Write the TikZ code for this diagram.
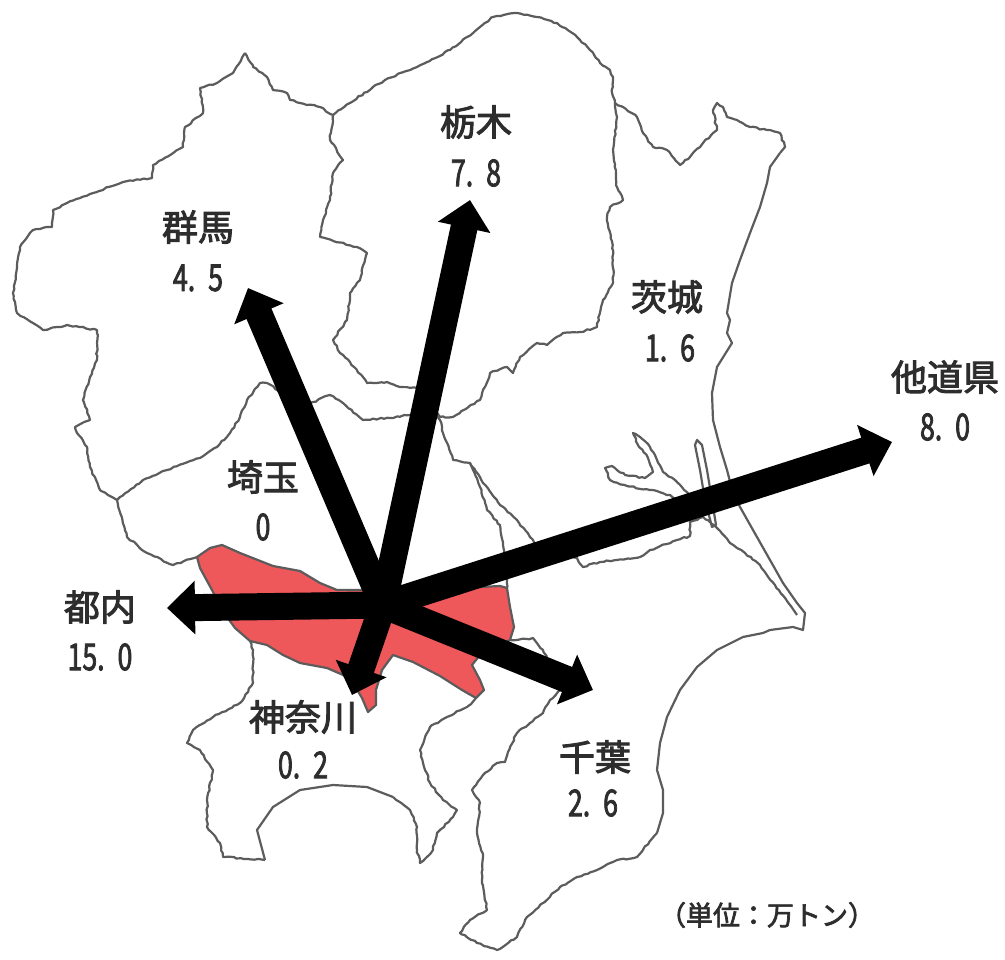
\documentclass[tikz,border=0pt]{standalone}
\usepackage{fontspec}
\setmainfont{Noto Sans CJK JP}
\newfontfamily\kjf{Noto Sans CJK JP}[FakeBold=2.6]
\newfontfamily\numf{Noto Sans CJK JP}[FakeStretch=0.72,FakeBold=2]
\usetikzlibrary{arrows.meta,decorations.pathmorphing}
\definecolor{mapline}{RGB}{92,92,92}
\definecolor{tokyored}{RGB}{238,88,90}
\definecolor{txt}{RGB}{45,45,45}
\newcommand\dgap{\hspace{13pt}}
\begin{document}
\begin{tikzpicture}[x=1pt,y=-1pt,
  border/.style={draw=mapline, line width=2.2pt, line join=round},
  jag/.style={border, decorate, decoration={random steps, segment length=3.5pt, amplitude=0.8pt}},
  flow/.style={draw=black, line width=27pt, -{Triangle[width=52pt,length=28pt]}},
  kj/.style={font=\fontsize{36}{40}\selectfont\kjf, text=txt, inner sep=0pt},
  num/.style={font=\fontsize{37}{40}\selectfont\numf, text=txt, inner sep=0pt},
  unit/.style={font=\fontsize{27}{30}\selectfont\kjf, text=txt, inner sep=0pt}]
\pgfmathsetseed{7}
\fill[white] (0,0) rectangle (1005,960);
\useasboundingbox (0,0) rectangle (1005,960);
% Tokyo
\filldraw[fill=tokyored, border] (197,557) -- (210,548) -- (222,545) -- (240,553) -- (273,566) -- (300,571) -- (320,583) -- (337,590) -- (360,590) -- (413,593) -- (447,590) -- (480,587) -- (500,586) -- (507,588) -- (510,607) -- (514,627) -- (510,640) -- (497,647) -- (480,655) -- (472,665) -- (480,680) -- (484,690) -- (476,698) -- (462,690) -- (440,676) -- (413,662) -- (393,655) -- (382,670) -- (376,690) -- (376,705) -- (368,712) -- (362,698) -- (350,678) -- (327,668) -- (300,663) -- (283,655) -- (267,645) -- (250,641) -- (235,628) -- (222,610) -- (212,590) -- (200,568) -- cycle;
% outer boundary: northern inland border
\draw[jag] (245,53) -- (253,67) -- (267,77) -- (273,90) -- (287,93) -- (290,100) -- (300,103) -- (320,107) -- (333,115) -- (350,103) -- (373,87) -- (400,73) -- (417,67) -- (450,50) -- (467,37) -- (480,27) -- (493,17) -- (517,13) -- (537,17) -- (557,23) -- (577,37) -- (590,50) -- (600,63) -- (610,70) -- (613,77) -- (612,93) -- (615,103) -- (623,107) -- (637,117) -- (643,133) -- (653,147) -- (667,150) -- (680,165) -- (690,157) -- (703,143) -- (717,130) -- (713,110) -- (717,103) -- (723,107) -- (727,117) -- (737,120) -- (750,127) -- (767,130) -- (780,133) -- (785,147) -- (780,153);
% coasts of Ibaraki and Chiba
\draw[border] (780,153) -- (770,167) -- (767,183) -- (760,207) -- (750,233) -- (740,260) -- (732,283) -- (727,313) -- (730,320) -- (727,333) -- (732,343) -- (717,367) -- (712,393) -- (713,420) -- (720,447) -- (727,470) -- (733,493) -- (740,507) -- (753,530) -- (770,560) -- (783,583) -- (797,603) -- (805,613) -- (803,630) -- (793,627) -- (770,630) -- (763,633) -- (743,637) -- (717,650) -- (697,667) -- (680,690) -- (667,717) -- (660,743) -- (657,770) -- (663,790) -- (663,813) -- (657,833);
\draw[jag] (657,833) -- (637,857) -- (617,860) -- (597,870) -- (577,877) -- (560,887) -- (543,903) -- (527,917) -- (517,937) -- (497,950) -- (477,943) -- (460,933) -- (470,920) -- (487,910) -- (482,883) -- (483,857) -- (477,833) -- (480,803) -- (472,790) -- (483,775) -- (497,763) -- (505,762) -- (510,747) -- (517,733) -- (530,723) -- (543,713) -- (550,700) -- (560,690) -- (557,680) -- (550,665) -- (543,650) -- (533,638) -- (517,640) -- (510,640);
% Kanagawa coast
\draw[jag] (476,698) -- (467,707) -- (447,717) -- (430,727) -- (420,750) -- (423,763) -- (430,783) -- (443,800) -- (457,810) -- (453,817) -- (437,833) -- (433,850) -- (420,863) -- (417,850) -- (417,827) -- (410,810) -- (393,797);
\draw[border] (393,797) -- (367,787) -- (333,785) -- (300,790) -- (273,807) -- (257,830) -- (265,860);
\draw[jag] (265,860) -- (223,857) -- (220,843) -- (207,827) -- (207,800) -- (213,770) -- (200,750) -- (187,743) -- (193,730) -- (213,717) -- (240,703) -- (253,683) -- (253,650) -- (250,641);
% western border
\draw[jag] (197,557) -- (173,565) -- (147,553) -- (127,537) -- (117,500) -- (100,490) -- (90,467) -- (87,447) -- (77,433) -- (75,427) -- (90,420) -- (83,400) -- (90,377) -- (97,360) -- (97,330) -- (67,325) -- (43,330) -- (33,323) -- (17,313) -- (13,293) -- (17,267) -- (20,247) -- (33,230) -- (52,227) -- (53,210) -- (67,203) -- (93,193) -- (123,182) -- (152,178) -- (153,165) -- (183,147) -- (185,127) -- (203,113) -- (200,88) -- (217,83) -- (233,73) -- (245,53);
% internal boundaries
\draw[jag] (333,115) -- (330,140) -- (343,160) -- (333,173) -- (330,200) -- (323,220) -- (320,237) -- (357,247) -- (367,253) -- (360,280) -- (350,293) -- (347,320) -- (333,340) -- (340,353) -- (350,362) -- (367,383) -- (387,382) -- (400,387) -- (417,388) -- (435,410);
\draw[jag] (615,103) -- (617,117) -- (613,150) -- (617,187) -- (623,200) -- (610,207) -- (607,217) -- (613,250) -- (613,283) -- (603,300) -- (597,327) -- (580,332) -- (563,333) -- (547,345) -- (537,343) -- (520,357) -- (513,373) -- (507,367) -- (490,373) -- (480,400) -- (453,417) -- (440,417) -- (435,410);
\draw[jag] (117,500) -- (143,480) -- (167,470) -- (200,458) -- (217,447) -- (230,433) -- (240,417) -- (247,400) -- (260,383) -- (267,383) -- (283,393) -- (300,405) -- (313,402) -- (330,395) -- (343,403) -- (363,420) -- (390,418) -- (410,415) -- (435,410);
\draw[jag] (435,410) -- (440,420) -- (443,433) -- (453,460) -- (470,463) -- (480,487) -- (487,510) -- (500,525) -- (503,545) -- (505,565) -- (507,588);
\draw[jag] (470,463) -- (483,483) -- (500,505) -- (517,520) -- (530,537) -- (540,550) -- (560,553) -- (577,558) -- (583,567) -- (600,562) -- (617,560) -- (640,557) -- (650,550) -- (677,540) -- (690,536) -- (690,522) -- (703,517) -- (717,528) -- (730,543) -- (745,553) -- (760,565) -- (775,585) -- (790,605) -- (797,615);
% lakes
\draw[jag] (633,433) -- (640,437) -- (650,447) -- (657,460) -- (663,472) -- (675,480) -- (690,495) -- (700,505) -- (690,510) -- (670,495) -- (650,490) -- (627,486) -- (610,480) -- (605,468) -- (612,466) -- (625,475) -- (645,478) -- (653,472) -- (648,458) -- (638,445) -- cycle;
\draw[border] (697,440) -- (702,445) -- (707,470) -- (712,500) -- (716,525) -- (712,527) -- (705,500) -- (700,470) -- (695,445) -- cycle;
% hub and arrow tips
\coordinate (hub) at (383,605);
\coordinate (tGunma) at (248,288);
\coordinate (tTochigi) at (470,200);
\coordinate (tOther) at (892,442);
\coordinate (tTokyo) at (167,608);
\coordinate (tChiba) at (593,690);
\coordinate (tKana) at (352,695);
\draw[flow] (hub) -- (tGunma);
\draw[flow] (hub) -- (tTochigi);
\draw[flow] (hub) -- (tOther);
\draw[flow] (hub) -- (tTokyo);
\draw[flow] (hub) -- (tChiba);
\draw[flow] (hub) -- (tKana);
% labels
\node[kj] (gunma) at (198,227) {群馬};
\node[num] (gunmaV) at (198,278) {4.\dgap5};
\node[kj] (tochigi) at (476,122) {栃木};
\node[num] (tochigiV) at (476,173) {7.\dgap8};
\node[kj] (ibaraki) at (667,297) {茨城};
\node[num] (ibarakiV) at (670,348) {1.\dgap6};
\node[kj] (other) at (945,377) {他道県};
\node[num] (otherV) at (945,427) {8.\dgap0};
\node[kj] (saitama) at (263,477) {埼玉};
\node[num] (saitamaV) at (263,527) {0};
\node[kj] (tonai) at (100,607) {都内};
\node[num] (tonaiV) at (100,657) {15.\dgap0};
\node[kj] (kanagawa) at (303,717) {神奈川};
\node[num] (kanagawaV) at (303,765) {0.\dgap2};
\node[kj] (chiba) at (595,757) {千葉};
\node[num] (chibaV) at (593,803) {2.\dgap6};
\node[unit] (units) at (767,915) {（単位：万トン）};
\end{tikzpicture}
\end{document}
